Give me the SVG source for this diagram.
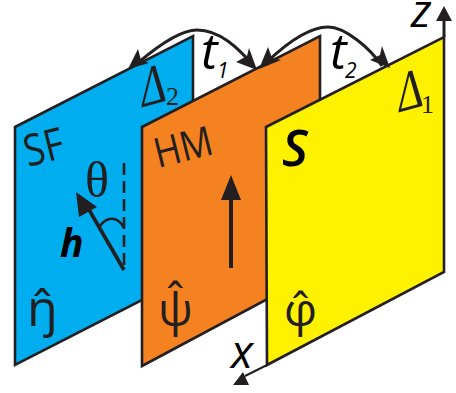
<svg xmlns="http://www.w3.org/2000/svg" width="456" height="393" viewBox="0 0 456 393">
<style>
.p{stroke:#231f20;stroke-width:2.6;stroke-linejoin:miter}
.l{fill:none;stroke:#231f20;stroke-width:2.6}
.a{fill:#231f20;stroke:none}
.s{font-family:"Open Sans","DejaVu Sans",sans-serif;fill:#231f20}
.g{font-family:"Liberation Serif",serif;fill:#231f20}
.i{font-family:"Open Sans","DejaVu Sans",sans-serif;font-style:italic;fill:#000}
</style>
<rect width="456" height="393" fill="#fff"/>
<g id="panel-sf">
<polygon class="p" fill="#00aeef" points="15,127 193,36 193,274 15,365"/>
<text class="s" font-size="44" transform="translate(28,167) rotate(-14) scale(.85,1)">SF</text>
<text class="g" font-size="50" x="85" y="197">θ</text>
<text class="i" font-size="39" font-weight="bold" x="60" y="257">h</text>
<text class="s" font-size="50" x="27" y="326">ŋ̂</text>
<text class="g" font-size="58" transform="translate(140,108) matrix(1,-.28,0,1,0,0) scale(.72,1)">Δ</text>
<text class="g" font-size="26" x="166" y="105">2</text>
</g>
<g id="panel-hm">
<polygon class="p" fill="#f58220" points="142,127 320,36 320,271 142,366"/>
<text class="s" font-size="41" transform="translate(158,168) rotate(-14) scale(.88,1)">HM</text>
<text class="s" font-size="46" x="158" y="326">ψ̂</text>
</g>
<g id="panel-s">
<polygon class="p" fill="#fff200" points="266,127 444,37 444,272 267,365"/>
<text class="i" font-size="50" font-weight="600" x="282" y="166">S</text>
<text class="s" font-size="46" x="284" y="326">φ̂</text>
<text class="g" font-size="58" transform="translate(397,113) matrix(1,-.28,0,1,0,0) scale(.72,1)">Δ</text>
<text class="g" font-size="26" x="421" y="113">1</text>
</g>
<g id="connectors">
<path class="l" style="stroke-width:3" d="M139,62 C165,40 185,30 197,30 C220,30 238,48 254,66"/>
<path class="a" d="M128,69 L138,49 L141,60 L149,63 Z"/>
<path class="a" d="M257,70 L236,62 L247,56 L249,48 Z"/>
<path class="l" style="stroke-width:3" d="M267,62 C290,40 312,27 328,27 C345,27 370,48 382,66"/>
<path class="a" d="M259,69 L268,47 L272,58 L281,60 Z"/>
<path class="a" d="M390,68 L370,60 L380,55 L382,46 Z"/>
<line class="l" style="stroke-width:3" x1="444" y1="37" x2="444" y2="16"/>
<path class="a" d="M444,6 L452,21 L436,21 Z"/>
<line class="l" style="stroke-width:2" x1="267" y1="365" x2="245" y2="376"/>
<path class="a" d="M233,385 L249,385 L243,372 Z"/>
<line class="l" style="stroke-width:4" x1="231" y1="268" x2="231" y2="190"/>
<path class="a" d="M231,175 L241,200 L221,200 Z"/>
<line class="l" style="stroke-width:3.6" x1="124" y1="270" x2="88" y2="208"/>
<path class="a" d="M76,192 L97,207 L79,217 Z"/>
<line class="l" x1="124" y1="163" x2="124" y2="270" stroke-dasharray="12 6"/>
<path class="l" d="M100,226 C107,216 118,216 124,228"/>
</g>
<g id="labels">
<text class="i" font-size="50" x="201" y="69">t</text>
<text class="i" font-size="21" x="217" y="78">1</text>
<text class="i" font-size="50" x="330" y="69">t</text>
<text class="i" font-size="21" x="345" y="78">2</text>
<text class="i" font-size="46" x="411" y="27">z</text>
<text class="i" font-size="46" x="231" y="368">x</text>
</g>
</svg>
